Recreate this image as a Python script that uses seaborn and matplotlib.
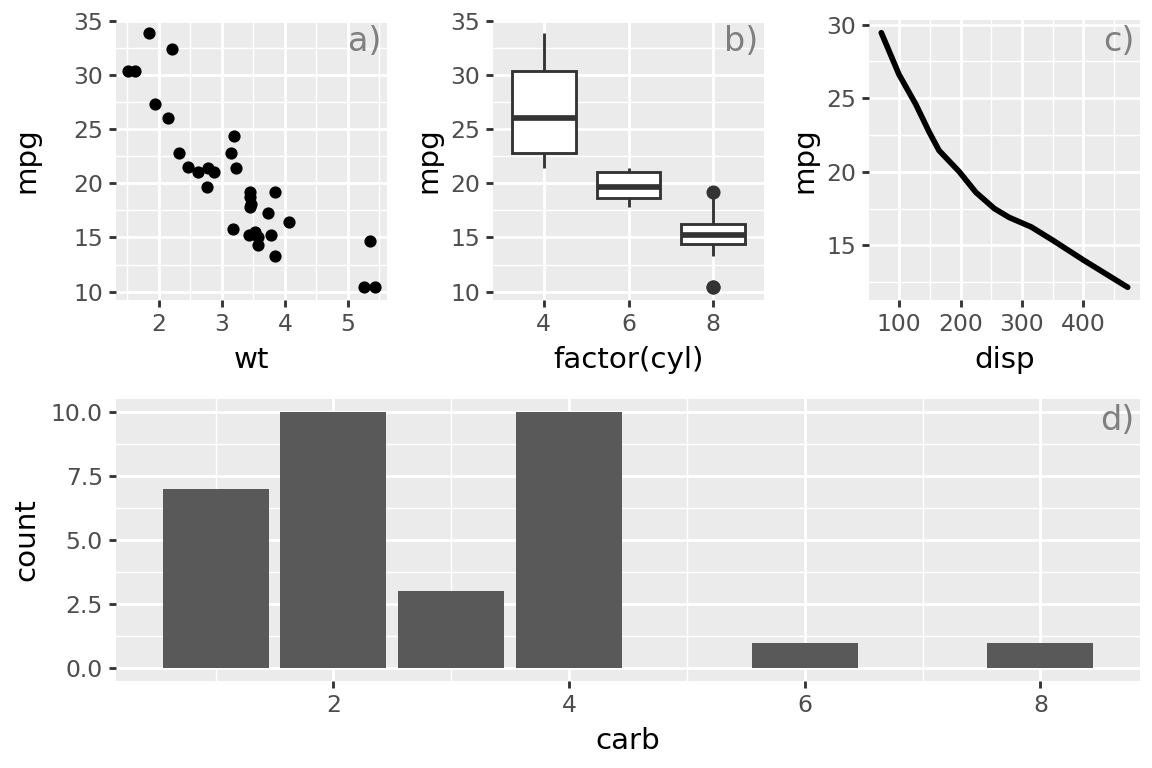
import numpy as np
import pandas as pd
import seaborn as sns
import matplotlib
matplotlib.use("Agg")
from matplotlib import pyplot as plt
from matplotlib.ticker import FixedLocator, FormatStrFormatter

# mtcars columns used by the four panels
mpg = [21.0, 21.0, 22.8, 21.4, 18.7, 18.1, 14.3, 24.4, 22.8, 19.2, 17.8,
       16.4, 17.3, 15.2, 10.4, 10.4, 14.7, 32.4, 30.4, 33.9, 21.5, 15.5,
       15.2, 13.3, 19.2, 27.3, 26.0, 30.4, 15.8, 19.7, 15.0, 21.4]
cyl = [6, 6, 4, 6, 8, 6, 8, 4, 4, 6, 6, 8, 8, 8, 8, 8, 8, 4, 4, 4, 4, 8,
       8, 8, 8, 4, 4, 4, 8, 6, 8, 4]
wt = [2.620, 2.875, 2.320, 3.215, 3.440, 3.460, 3.570, 3.190, 3.150, 3.440,
      3.440, 4.070, 3.730, 3.780, 5.250, 5.424, 5.345, 2.200, 1.615, 1.835,
      2.465, 3.520, 3.435, 3.840, 3.845, 1.935, 2.140, 1.513, 3.170, 2.770,
      3.570, 2.780]
carb = [4, 4, 1, 1, 2, 1, 4, 2, 2, 4, 4, 3, 3, 3, 4, 4, 4, 1, 2, 1, 1, 2,
        2, 4, 2, 1, 2, 2, 4, 6, 8, 2]

# smoothed mpg ~ disp curve
disp_fit = [71.1, 100, 127, 149, 165, 198, 225, 255, 279, 315, 350, 400, 472]
mpg_fit = [29.45, 26.6, 24.6, 22.7, 21.45, 20.0, 18.6, 17.5, 16.9, 16.25,
           15.35, 14.0, 12.15]

cars = pd.DataFrame({'mpg': mpg, 'cyl': cyl, 'wt': wt, 'carb': carb})
cars['factor(cyl)'] = cars['cyl'].astype(str)

sns.set_theme(style="darkgrid")
plt.rcParams['font.family'] = ['DejaVu Sans']

BG = '#EBEBEB'
TICK_TXT = '#4D4D4D'
DARK = '#333333'
MAJ = 1.07
MIN = 0.53


def gg_axes(ax, xmaj=None, xmin=None, ymaj=None, ymin=None):
    ax.set_facecolor(BG)
    for s in ax.spines.values():
        s.set_visible(False)
    if xmaj is not None:
        ax.xaxis.set_major_locator(FixedLocator(xmaj))
    if ymaj is not None:
        ax.yaxis.set_major_locator(FixedLocator(ymaj))
    if xmin is not None:
        ax.xaxis.set_minor_locator(FixedLocator(xmin))
    if ymin is not None:
        ax.yaxis.set_minor_locator(FixedLocator(ymin))
    ax.grid(True, which='major', color='white', linewidth=MAJ)
    ax.grid(True, which='minor', color='white', linewidth=MIN)
    ax.set_axisbelow(True)
    ax.tick_params(which='major', length=2.75, width=MAJ, color=DARK,
                   labelsize=8.8, labelcolor=TICK_TXT, pad=2.2,
                   bottom=True, left=True)
    ax.tick_params(which='minor', length=0)
    ax.xaxis.label.set_size(11)
    ax.yaxis.label.set_size(11)
    ax.xaxis.labelpad = 3.5
    ax.yaxis.labelpad = 2.75


def tag(ax, s):
    ax.annotate(s, xy=(1, 1), xycoords='axes fraction', xytext=(-2.2, -1.8),
                textcoords='offset points', ha='right', va='top',
                fontsize=12.5, color='#7F7F7F')


def expand(v, m=0.05):
    lo, hi = min(v), max(v)
    d = (hi - lo) * m
    return lo - d, hi + d


W, H = 1152, 768
fig = plt.figure(figsize=(6, 4), dpi=192)


def rect(l, t, r, b):
    return [l / W, 1 - b / H, (r - l) / W, (b - t) / H]


ax1 = fig.add_axes(rect(116, 20, 387, 300))
ax2 = fig.add_axes(rect(493, 20, 764, 300))
ax3 = fig.add_axes(rect(869, 20, 1140, 300))
ax4 = fig.add_axes(rect(116, 399, 1140, 681))

# a) scatter
sns.scatterplot(data=cars, x='wt', y='mpg', color='black', s=21,
                linewidth=0, ax=ax1)
gg_axes(ax1, xmaj=[2, 3, 4, 5], xmin=[1.5, 2.5, 3.5, 4.5, 5.5],
        ymaj=[10, 15, 20, 25, 30, 35], ymin=[12.5, 17.5, 22.5, 27.5, 32.5])
ax1.set_xlim(expand(wt))
ax1.set_ylim(expand(mpg))
tag(ax1, 'a)')

# b) boxplot
sns.boxplot(data=cars, x='factor(cyl)', y='mpg', order=['4', '6', '8'],
            color='white', saturation=1, linecolor=DARK, linewidth=MAJ,
            width=0.75, showcaps=False,
            medianprops={'linewidth': 2.13, 'color': DARK},
            flierprops={'marker': 'o', 'markerfacecolor': DARK,
                        'markeredgecolor': DARK, 'markersize': 4.27},
            ax=ax2)
gg_axes(ax2, ymaj=[10, 15, 20, 25, 30, 35],
        ymin=[12.5, 17.5, 22.5, 27.5, 32.5])
ax2.xaxis.grid(True, which='major', color='white', linewidth=MAJ)
ax2.set_xlim(-0.6, 2.6)
ax2.set_ylim(expand(mpg))
tag(ax2, 'b)')

# c) smooth line
sns.lineplot(x=disp_fit, y=mpg_fit, color='black', linewidth=2.13,
             sort=False, ax=ax3)
gg_axes(ax3, xmaj=[100, 200, 300, 400], xmin=[50, 150, 250, 350, 450],
        ymaj=[15, 20, 25, 30], ymin=[12.5, 17.5, 22.5, 27.5])
ax3.set_xlim(expand([71.1, 472]))
ax3.set_ylim(expand(mpg_fit))
ax3.set_xlabel('disp')
ax3.set_ylabel('mpg')
tag(ax3, 'c)')

# d) counts
sns.histplot(data=cars, x='carb', discrete=True, shrink=0.9,
             color='#595959', alpha=1, linewidth=0, ax=ax4)
gg_axes(ax4, xmaj=[2, 4, 6, 8], xmin=[1, 3, 5, 7],
        ymaj=[0, 2.5, 5, 7.5, 10], ymin=[1.25, 3.75, 6.25, 8.75])
ax4.yaxis.set_major_formatter(FormatStrFormatter('%.1f'))
ax4.set_xlim(0.155, 8.845)
ax4.set_ylim(-0.5, 10.5)
ax4.set_ylabel('count')
tag(ax4, 'd)')

for ax in (ax1, ax2, ax3, ax4):
    ax.xaxis.label.set_color('black')
    ax.yaxis.label.set_color('black')

# left column titles line up, as in the patchwork layout
ax1.yaxis.set_label_coords(-0.28, 0.5)
ax4.yaxis.set_label_coords(-0.28 * 271 / 1024, 0.5)

fig.savefig('out.png', dpi=192, facecolor='white')
